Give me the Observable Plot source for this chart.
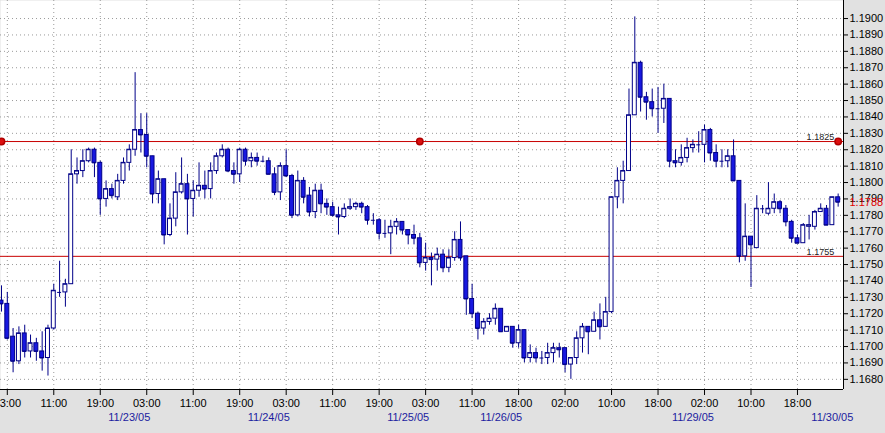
<!DOCTYPE html>
<html>
<head>
<meta charset="utf-8">
<style>
  html, body { margin: 0; padding: 0; background: #e1e1e1; }
  #chart svg { display: block; }
</style>
</head>
<body>
<div id="chart"></div>
<script src="https://cdn.jsdelivr.net/npm/d3@7"></script>
<script src="https://cdn.jsdelivr.net/npm/@observablehq/plot@0.6"></script>
<script>
const open = [1.1728,1.1726,1.1706,1.1691,1.1708,1.1697,1.1702,1.1697,1.1693,1.1711,
1.1733,1.1733,1.1738,1.1805,1.1807,1.1813,1.1820,1.1812,1.1790,1.1796,
1.1791,1.1801,1.1812,1.1820,1.1832,1.1829,1.1816,1.1793,1.1802,1.1768,
1.1778,1.1794,1.1799,1.1790,1.1795,1.1798,1.1796,1.1807,1.1816,1.1820,
1.1807,1.1805,1.1820,1.1813,1.1815,1.1813,1.1813,1.1805,1.1794,1.1810,
1.1804,1.1780,1.1801,1.1792,1.1782,1.1795,1.1787,1.1785,1.1780,1.1779,
1.1784,1.1785,1.1787,1.1785,1.1777,1.1777,1.1769,1.1769,1.1773,1.1776,
1.1771,1.1768,1.1766,1.1751,1.1754,1.1753,1.1756,1.1748,1.1754,1.1765,
1.1755,1.1729,1.1720,1.1711,1.1715,1.1717,1.1723,1.1709,1.1712,1.1702,
1.1710,1.1693,1.1696,1.1693,1.1693,1.1696,1.1699,1.1699,1.1689,1.1693,
1.1705,1.1712,1.1709,1.1716,1.1712,1.1721,1.1791,1.1801,1.1807,1.1841,
1.1873,1.1852,1.1849,1.1845,1.1845,1.1851,1.1813,1.1812,1.1815,1.1821,
1.1823,1.1823,1.1832,1.1818,1.1813,1.1813,1.1816,1.1801,1.1755,1.1767,
1.1760,1.1784,1.1781,1.1784,1.1788,1.1784,1.1776,1.1766,1.1763,1.1773,
1.1773,1.1782,1.1784,1.1774,1.1791];
const high = [1.1737,1.1733,1.1711,1.1712,1.1713,1.1707,1.1705,1.1709,1.1713,1.1738,
1.1752,1.1741,1.1820,1.1815,1.1820,1.1821,1.1821,1.1813,1.1801,1.1799,
1.1805,1.1815,1.1823,1.1867,1.1842,1.1842,1.1816,1.1807,1.1802,1.1787,
1.1806,1.1815,1.1805,1.1801,1.1812,1.1807,1.1812,1.1818,1.1823,1.1821,
1.1812,1.1821,1.1821,1.1818,1.1818,1.1816,1.1815,1.1809,1.1812,1.1820,
1.1805,1.1807,1.1803,1.1797,1.1799,1.1799,1.1790,1.1788,1.1785,1.1787,
1.1790,1.1788,1.1788,1.1786,1.1781,1.1778,1.1777,1.1777,1.1778,1.1776,
1.1771,1.1774,1.1769,1.1763,1.1757,1.1760,1.1759,1.1759,1.1770,1.1776,
1.1755,1.1738,1.1721,1.1717,1.1720,1.1726,1.1723,1.1712,1.1712,1.1713,
1.1710,1.1701,1.1699,1.1697,1.1702,1.1702,1.1702,1.1699,1.1693,1.1709,
1.1714,1.1712,1.1721,1.1726,1.1730,1.1791,1.1809,1.1813,1.1857,1.1901,
1.1874,1.1855,1.1857,1.1858,1.1860,1.1851,1.1820,1.1823,1.1827,1.1826,
1.1831,1.1835,1.1833,1.1823,1.1820,1.1820,1.1826,1.1801,1.1787,1.1767,
1.1792,1.1786,1.1800,1.1793,1.1789,1.1786,1.1777,1.1768,1.1775,1.1780,
1.1783,1.1787,1.1786,1.1791,1.1793];
const low = [1.1721,1.1704,1.1684,1.1689,1.1693,1.1693,1.1691,1.1685,1.1682,1.1710,
1.1730,1.1724,1.1738,1.1799,1.1803,1.1812,1.1803,1.1780,1.1785,1.1790,
1.1789,1.1799,1.1807,1.1816,1.1818,1.1809,1.1787,1.1787,1.1762,1.1767,
1.1773,1.1793,1.1768,1.1779,1.1791,1.1790,1.1790,1.1805,1.1815,1.1806,
1.1799,1.1800,1.1810,1.1809,1.1810,1.1812,1.1805,1.1792,1.1789,1.1803,
1.1778,1.1779,1.1787,1.1779,1.1778,1.1781,1.1780,1.1779,1.1768,1.1778,
1.1783,1.1783,1.1781,1.1774,1.1774,1.1765,1.1766,1.1756,1.1768,1.1768,
1.1762,1.1762,1.1748,1.1746,1.1737,1.1746,1.1745,1.1745,1.1752,1.1752,
1.1719,1.1717,1.1704,1.1707,1.1713,1.1713,1.1709,1.1709,1.1699,1.1699,
1.1690,1.1690,1.1690,1.1689,1.1689,1.1690,1.1693,1.1684,1.1680,1.1689,
1.1696,1.1695,1.1709,1.1704,1.1712,1.1720,1.1784,1.1787,1.1807,1.1841,
1.1843,1.1838,1.1840,1.1830,1.1836,1.1809,1.1809,1.1810,1.1812,1.1818,
1.1818,1.1812,1.1813,1.1809,1.1809,1.1809,1.1801,1.1751,1.1752,1.1736,
1.1760,1.1781,1.1780,1.1781,1.1781,1.1773,1.1763,1.1763,1.1763,1.1765,
1.1771,1.1782,1.1774,1.1774,1.1785];
const close = [1.1726,1.1705,1.1691,1.1708,1.1697,1.1702,1.1697,1.1693,1.1711,1.1734,
1.1733,1.1738,1.1805,1.1807,1.1813,1.1820,1.1812,1.1790,1.1796,1.1792,
1.1801,1.1812,1.1820,1.1832,1.1829,1.1816,1.1793,1.1802,1.1768,1.1778,
1.1794,1.1799,1.1790,1.1795,1.1798,1.1796,1.1807,1.1816,1.1820,1.1807,
1.1805,1.1820,1.1813,1.1815,1.1813,1.1813,1.1805,1.1794,1.1810,1.1804,
1.1780,1.1801,1.1791,1.1782,1.1795,1.1787,1.1785,1.1780,1.1779,1.1784,
1.1785,1.1787,1.1785,1.1777,1.1777,1.1769,1.1769,1.1773,1.1776,1.1771,
1.1768,1.1766,1.1751,1.1754,1.1753,1.1756,1.1748,1.1754,1.1765,1.1754,
1.1729,1.1720,1.1711,1.1715,1.1717,1.1723,1.1709,1.1712,1.1702,1.1710,
1.1693,1.1696,1.1693,1.1693,1.1696,1.1699,1.1698,1.1689,1.1693,1.1705,
1.1712,1.1709,1.1716,1.1712,1.1721,1.1791,1.1801,1.1807,1.1841,1.1873,
1.1852,1.1849,1.1845,1.1845,1.1851,1.1813,1.1812,1.1815,1.1821,1.1823,
1.1823,1.1832,1.1818,1.1813,1.1813,1.1816,1.1801,1.1755,1.1767,1.1762,
1.1784,1.1784,1.1784,1.1788,1.1784,1.1776,1.1766,1.1763,1.1774,1.1774,
1.1782,1.1784,1.1774,1.1791,1.1788];

// bottom axis: tick bar positions and labels
const tickIdx = [1,9,17,25,33,41,49,57,65,73,81,89,97,105,113,121,129,137];
const timeLabels = ["03:00","11:00","19:00","03:00","11:00","19:00","03:00","11:00","19:00",
  "03:00","11:00","18:00","02:00","10:00","18:00","02:00","10:00","18:00"];
const dateIdx = [22,46,70,86,119,143];
const dateLabels = ["11/23/05","11/24/05","11/25/05","11/26/05","11/29/05","11/30/05"];

// price axis ticks
const yTicks = [1.1680,1.1690,1.1700,1.1710,1.1720,1.1730,1.1740,1.1750,1.1760,1.1770,1.1780,
  1.1790,1.1800,1.1810,1.1820,1.1830,1.1840,1.1850,1.1860,1.1870,1.1880,1.1890,1.1900];

// horizontal level lines
const levels = [1.1825, 1.1755];
const levelAnchorIdx = [0, 72, 144];
const lastPrice = 1.1788;

const candles = open.map((o, i) => ({i, open: o, high: high[i], low: low[i], close: close[i]}));
const N = candles.length;
const xDomain = [-0.17, N - 0.08];
const yDomain = [1.16738, 1.19110];
const half = 0.34;
const upFill = "white", downFill = "#1818e0", edge = "#000088";

const chart = Plot.plot({
  width: 885,
  height: 433,
  marginLeft: 0,
  marginRight: 42,
  marginTop: 0,
  marginBottom: 44,
  style: {background: "#e1e1e1", fontFamily: "'Liberation Sans', Arial, sans-serif", fontSize: "11px", color: "#000"},
  x: {type: "linear", domain: xDomain, axis: null},
  y: {type: "linear", domain: yDomain, axis: null},
  marks: [
    Plot.frame({fill: "white", stroke: null}),
    Plot.ruleY(yTicks, {stroke: "#9a9a9a", strokeDasharray: "1,3"}),
    Plot.ruleX(tickIdx, {stroke: "#9a9a9a", strokeDasharray: "1,3"}),
    Plot.ruleY(levels, {stroke: "#c80000", strokeWidth: 1}),
    Plot.dot(levelAnchorIdx, {x: d => d, y: () => levels[0], r: 3.2, fill: "#dd1010", stroke: "#b00000"}),
    Plot.text(levels, {x: () => N - 1, y: d => d, text: d => d.toFixed(4), textAnchor: "end", dx: -4, dy: -4, fontSize: 9, fill: "#222"}),
    Plot.ruleX(candles, {x: "i", y1: "low", y2: "high", stroke: edge, strokeWidth: 1}),
    Plot.rect(candles, {
      x1: d => d.i - half, x2: d => d.i + half,
      y1: "open", y2: "close",
      fill: d => d.close < d.open ? downFill : upFill,
      stroke: edge, strokeWidth: 1
    }),
    Plot.ruleY(candles, {y: "close", x1: d => d.i - half, x2: d => d.i + half, stroke: edge}),
    Plot.ruleY([yDomain[0]], {stroke: "#000"}),
    Plot.ruleX([xDomain[1]], {stroke: "#000"}),
    Plot.axisY({anchor: "right", ticks: yTicks, tickFormat: d => d.toFixed(4), tickSize: 4, tickPadding: 2, fontSize: 11, label: null, stroke: "#000", fill: "#000"}),
    Plot.text([lastPrice], {x: () => xDomain[1], y: d => d, text: d => d.toFixed(4), textAnchor: "start", dx: 6, fill: "#e00000", fontSize: 11}),
    Plot.axisX({ticks: tickIdx, tickFormat: d => timeLabels[tickIdx.indexOf(d)], tickSize: 6, tickPadding: 4, fontSize: 11, label: null, stroke: "#000", fill: "#000"}),
    Plot.axisX({ticks: dateIdx, tickFormat: d => dateLabels[dateIdx.indexOf(d)], tickSize: 0, tickPadding: 24, fontSize: 11, label: null, fill: "#1c1ca0"})
  ]
});
document.getElementById("chart").appendChild(chart);
</script>
</body>
</html>
